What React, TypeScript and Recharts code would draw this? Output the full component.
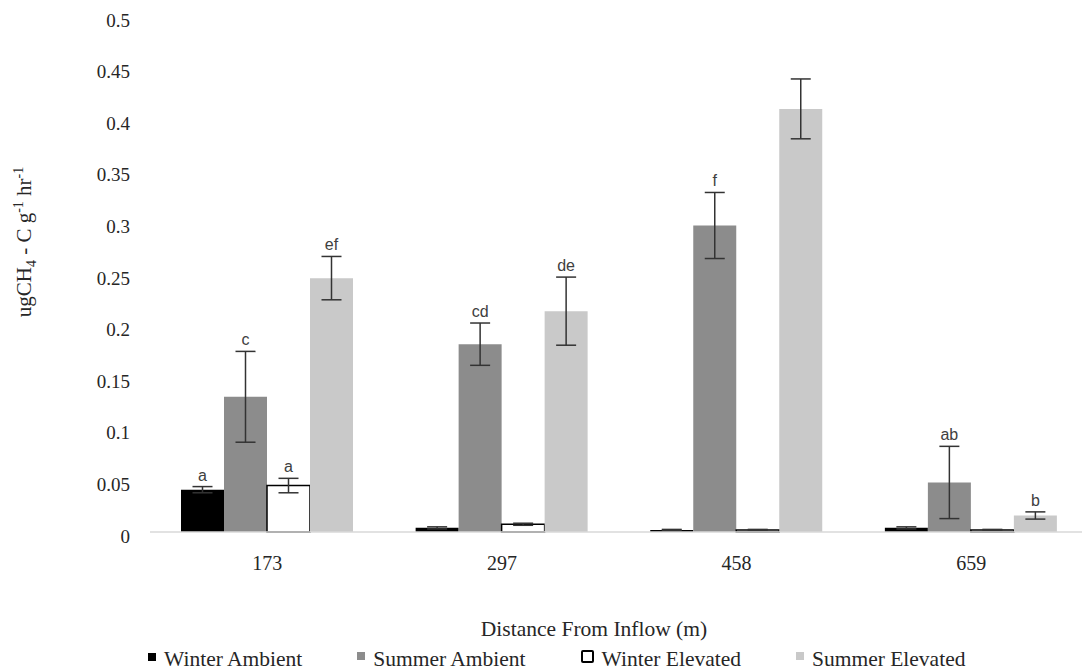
import React from 'react';
import { BarChart, Bar, XAxis, YAxis, ErrorBar, LabelList } from 'recharts';

const categories = ['173', '297', '458', '659'];
const winterAmbient = [0.041, 0.004, 0.002, 0.004];
const winterAmbientErr = [0.003, 0.001, 0.0005, 0.001];
const summerAmbient = [0.131, 0.182, 0.297, 0.048];
const summerAmbientErr = [0.044, 0.0205, 0.032, 0.035];
const winterElevated = [0.045, 0.0075, 0.002, 0.002];
const winterElevatedErr = [0.007, 0.001, 0.0005, 0.0005];
const summerElevated = [0.246, 0.214, 0.41, 0.016];
const summerElevatedErr = [0.021, 0.033, 0.029, 0.0035];

const winterAmbientLetters = ['a', '', '', ''];
const summerAmbientLetters = ['c', 'cd', 'f', 'ab'];
const winterElevatedLetters = ['a', '', '', ''];
const summerElevatedLetters = ['ef', 'de', '', 'b'];

const yTicks = [0, 0.05, 0.1, 0.15, 0.2, 0.25, 0.3, 0.35, 0.4, 0.45, 0.5];
const yTickLabels = ['0', '0.05', '0.1', '0.15', '0.2', '0.25', '0.3', '0.35', '0.4', '0.45', '0.5'];

const series = [
  { key: 'wa', name: 'Winter Ambient', values: winterAmbient, errs: winterAmbientErr, letters: winterAmbientLetters, fill: '#000000', stroke: 'none' },
  { key: 'sa', name: 'Summer Ambient', values: summerAmbient, errs: summerAmbientErr, letters: summerAmbientLetters, fill: '#8c8c8c', stroke: 'none' },
  { key: 'we', name: 'Winter Elevated', values: winterElevated, errs: winterElevatedErr, letters: winterElevatedLetters, fill: '#ffffff', stroke: '#000000' },
  { key: 'se', name: 'Summer Elevated', values: summerElevated, errs: summerElevatedErr, letters: summerElevatedLetters, fill: '#c9c9c9', stroke: 'none' },
];

const data = categories.map((c, i) => {
  const row: any = { distance: c };
  series.forEach((s) => {
    row[s.key] = s.values[i];
    row[s.key + 'Err'] = s.errs[i];
  });
  return row;
});

const SERIF = '"Liberation Serif", "Times New Roman", serif';
const SANS = '"Liberation Sans", Arial, sans-serif';

const YTick = (props: any) => {
  const { x, y, payload } = props;
  const idx = yTicks.indexOf(payload.value);
  const label = idx >= 0 ? yTickLabels[idx] : String(payload.value);
  return (
    <text x={x} y={y + 4} dy="0.35em" textAnchor="end" fontFamily={SERIF} fontSize={19} fill="#262626">
      {label}
    </text>
  );
};

const XTick = (props: any) => {
  const { x, y, payload } = props;
  return (
    <text x={x} y={y + 29} dy="0.35em" textAnchor="middle" fontFamily={SERIF} fontSize={20} fill="#262626">
      {payload.value}
    </text>
  );
};

const makeLetterLabel = (s: any) => (props: any) => {
  const vb = props.viewBox ?? props;
  const x = vb.x ?? props.x;
  const y = vb.y ?? props.y;
  const width = vb.width ?? props.width;
  const height = vb.height ?? props.height;
  const index = props.index;
  const letter = s.letters[index];
  if (!letter) return null;
  const v = s.values[index];
  const e = s.errs[index];
  const h = Math.abs(height);
  const top = Math.min(y, y + height);
  const pxPerUnit = h / v;
  const errTop = top - e * pxPerUnit;
  return (
    <text x={x + width / 2} y={errTop - 6} textAnchor="middle" fontFamily={SANS} fontSize={16} fill="#404040">
      {letter}
    </text>
  );
};

const YLabel = () => (
  <text transform="translate(31,242) rotate(-90)" textAnchor="middle" fontFamily={SERIF} fontSize={21} fill="#262626">
    <tspan>ugCH</tspan>
    <tspan dy={5} fontSize={14}>4</tspan>
    <tspan dy={-5}> - C g</tspan>
    <tspan dy={-8} fontSize={14}>-1</tspan>
    <tspan dy={8}> hr</tspan>
    <tspan dy={-8} fontSize={14}>-1</tspan>
  </text>
);

const markerStyle = (s: any): React.CSSProperties => {
  if (s.key === 'we') {
    return { width: 9, height: 9, border: '2px solid #000', borderRadius: 2, background: '#fff', marginTop: -6 };
  }
  if (s.key === 'wa') return { width: 8, height: 8, background: s.fill, marginTop: -6 };
  return { width: 8, height: 8, background: s.fill, marginTop: -8 };
};

export default function App() {
  return (
    <div style={{ position: 'absolute', left: 0, top: 0, width: 1082, height: 671, overflow: 'hidden', background: '#fff' }}>
      <BarChart
        width={1100}
        height={671}
        data={data}
        margin={{ top: 16, right: 11.5, left: 0, bottom: 0 }}
        barGap={0}
        barSize={43}
      >
        <XAxis
          dataKey="distance"
          type="category"
          height={139}
          axisLine={{ stroke: '#d9d9d9', strokeWidth: 1.5 }}
          tickLine={false}
          tickSize={0}
          tick={<XTick />}
          interval={0}
        />
        <YAxis
          width={150}
          domain={[0, 0.5]}
          ticks={yTicks}
          axisLine={false}
          tickLine={false}
          tickSize={0}
          tickMargin={20}
          tick={<YTick />}
          interval={0}
          label={<YLabel />}
        />
        {series.map((s) => (
          <Bar
            key={s.key}
            dataKey={s.key}
            name={s.name}
            fill={s.fill}
            stroke={s.stroke}
            strokeWidth={s.stroke === 'none' ? 0 : 1.5}
            isAnimationActive={false}
          >
            <ErrorBar dataKey={s.key + 'Err'} width={10} stroke="#333333" strokeWidth={1.5} direction="y" />
            <LabelList dataKey={s.key} content={makeLetterLabel(s)} />
          </Bar>
        ))}
      </BarChart>
      <div
        style={{
          position: 'absolute',
          left: 394,
          width: 400,
          top: 617,
          lineHeight: '24px',
          textAlign: 'center',
          fontFamily: SERIF,
          fontSize: 21.5,
          color: '#262626',
        }}
      >
        Distance From Inflow (m)
      </div>
      <div
        style={{
          position: 'absolute',
          left: 148,
          top: 649,
          display: 'flex',
          alignItems: 'center',
          gap: 55,
          fontFamily: SERIF,
          fontSize: 21.5,
          lineHeight: '21px',
          color: '#262626',
          whiteSpace: 'nowrap',
        }}
      >
        {series.map((s) => (
          <div key={s.key} style={{ display: 'flex', alignItems: 'center', gap: 8 }}>
            <div style={markerStyle(s)} />
            <span>{s.name}</span>
          </div>
        ))}
      </div>
    </div>
  );
}
